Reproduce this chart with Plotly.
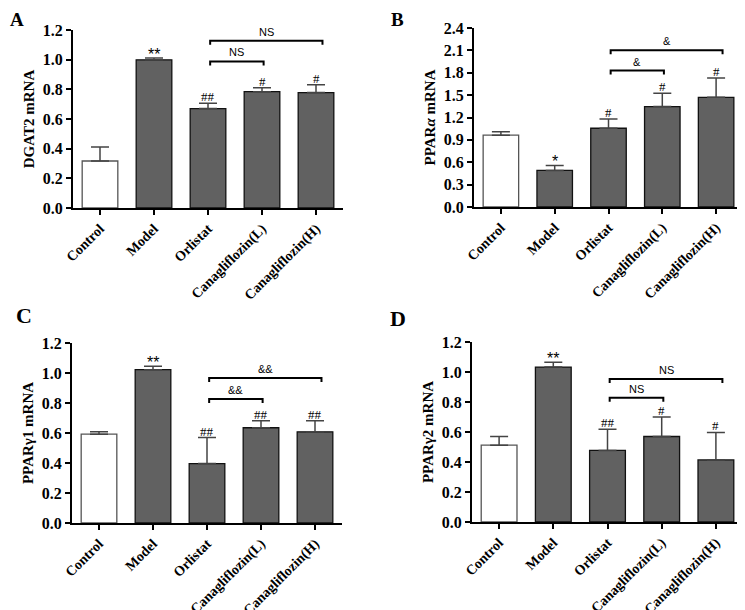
import plotly.graph_objects as go

categories = ["Control", "Model", "Orlistat", "Canagliflozin(L)", "Canagliflozin(H)"]

dgat2_mean = [0.317, 0.999, 0.670, 0.784, 0.778]
dgat2_err = [0.094, 0.013, 0.036, 0.027, 0.053]
dgat2_sig = ["", "**", "##", "#", "#"]

ppara_mean = [0.963, 0.490, 1.056, 1.346, 1.470]
ppara_err = [0.047, 0.067, 0.124, 0.178, 0.260]
ppara_sig = ["", "*", "#", "#", "#"]

pparg1_mean = [0.592, 1.022, 0.396, 0.635, 0.608]
pparg1_err = [0.016, 0.023, 0.174, 0.046, 0.073]
pparg1_sig = ["", "**", "##", "##", "##"]

pparg2_mean = [0.512, 1.033, 0.477, 0.570, 0.414]
pparg2_err = [0.058, 0.032, 0.142, 0.130, 0.183]
pparg2_sig = ["", "**", "##", "#", "#"]

# brackets: start index, end index, y level, label
bracket_start = [2.04, 2.04]
bracket_end = [3.03, 4.12]
dgat2_br_y = [0.988, 1.128]
ppara_br_y = [1.83, 2.10]
pparg1_br_y = [0.826, 0.967]
pparg2_br_y = [0.829, 0.953]
dgat2_br_lab = ["NS", "NS"]
ppara_br_lab = ["&", "&"]
pparg1_br_lab = ["&&", "&&"]
pparg2_br_lab = ["NS", "NS"]

y_ticks_a = [0.0, 0.2, 0.4, 0.6, 0.8, 1.0, 1.2]
y_ticks_b = [0.0, 0.3, 0.6, 0.9, 1.2, 1.5, 1.8, 2.1, 2.4]

# the page has an 8px body margin; lay out in page pixels and shift
PAGE_OFF = 8
W, H = 745 - PAGE_OFF, 610
SERIF = "Liberation Serif"
SANS = "Liberation Sans"

panels = [
    dict(mean=dgat2_mean, err=dgat2_err, sig=dgat2_sig, bry=dgat2_br_y, brl=dgat2_br_lab,
         ticks=y_ticks_a, title="DGAT2 mRNA", letter="A",
         xpx=(73, 343), ypx=(30, 208), letter_pos=(3, 2), letter_size=19, lshift=1),
    dict(mean=ppara_mean, err=ppara_err, sig=ppara_sig, bry=ppara_br_y, brl=ppara_br_lab,
         ticks=y_ticks_b, title="PPAR<i>α</i> mRNA", letter="B",
         xpx=(474, 743), ypx=(28, 207), letter_pos=(389, 0), letter_size=19, lshift=1),
    dict(mean=pparg1_mean, err=pparg1_err, sig=pparg1_sig, bry=pparg1_br_y, brl=pparg1_br_lab,
         ticks=y_ticks_a, title="PPARγ1 mRNA", letter="C",
         xpx=(72, 342), ypx=(343, 523), letter_pos=(14, 301), letter_size=22, lshift=0),
    dict(mean=pparg2_mean, err=pparg2_err, sig=pparg2_sig, bry=pparg2_br_y, brl=pparg2_br_lab,
         ticks=y_ticks_a, title="PPARγ2 mRNA", letter="D",
         xpx=(472, 743), ypx=(342, 522), letter_pos=(388, 304), letter_size=22, lshift=0),
]


def fx(px):
    return min(max((px - PAGE_OFF) / W, 0), 1)


def fy(py):
    return min(max(1 - (py - PAGE_OFF) / H, 0), 1)


fig = go.Figure()
xs = list(range(len(categories)))
bar_fill = ["#ffffff"] + ["#616161"] * (len(categories) - 1)
bar_line = ["#555555"] + ["#111111"] * (len(categories) - 1)

for i, p in enumerate(panels):
    n = i + 1
    xa = "x" if n == 1 else f"x{n}"
    ya = "y" if n == 1 else f"y{n}"
    fig.add_trace(go.Bar(
        x=xs, y=p["mean"], xaxis=xa, yaxis=ya, width=0.66,
        marker=dict(color=bar_fill, line=dict(color=bar_line, width=1.3)),
        error_y=dict(type="data", array=p["err"], arrayminus=[0] * len(xs),
                     symmetric=False, color="#444444", thickness=1.5, width=9),
        showlegend=False, hoverinfo="skip",
    ))
    ymax = p["ticks"][-1]
    plot_h = p["ypx"][1] - p["ypx"][0]
    unit = ymax / plot_h  # data units per pixel
    fig.update_layout(**{
        ("xaxis" if n == 1 else f"xaxis{n}"): dict(
            domain=[fx(p["xpx"][0]), fx(p["xpx"][1])], range=[-0.5, len(xs) - 0.5],
            anchor=ya, tickvals=xs, ticktext=categories, tickangle=-45, automargin=False,
            showline=True, linecolor="black", linewidth=2,
            ticks="outside", ticklen=5, tickwidth=2, tickcolor="black",
            showgrid=False, zeroline=False,
            tickfont=dict(family=SERIF, size=14, color="black", weight="bold"),
        ),
        ("yaxis" if n == 1 else f"yaxis{n}"): dict(
            domain=[fy(p["ypx"][1]), fy(p["ypx"][0])], range=[0, ymax], anchor=xa,
            automargin=False,
            tickvals=p["ticks"], ticktext=[f"{t:.1f}" for t in p["ticks"]],
            showline=True, linecolor="black", linewidth=2,
            ticks="outside", ticklen=5, tickwidth=2, tickcolor="black",
            showgrid=False, zeroline=False,
            tickfont=dict(family=SERIF, size=16, color="black", weight="bold"),
            title=dict(text=p["title"], standoff=5,
                       font=dict(family=SERIF, size=15, color="black", weight="bold")),
        ),
    })
    # significance marks over bars
    for k, s in enumerate(p["sig"]):
        if not s:
            continue
        star = "*" in s
        fig.add_annotation(
            x=xs[k], y=p["mean"][k] + p["err"][k], xref=xa, yref=ya,
            text=s, showarrow=False, yanchor="bottom",
            yshift=-7 if star else -3,
            font=dict(family=SANS if star else SERIF, size=16 if star else 13,
                      color="black", weight="normal"),
        )
    # brackets
    drop = 4 * unit
    for xs0, xs1, by, lab in zip(bracket_start, bracket_end, p["bry"], p["brl"]):
        fig.add_shape(
            type="path", xref=xa, yref=ya,
            path=f"M {xs0},{by - drop} L {xs0},{by} L {xs1},{by} L {xs1},{by - drop}",
            line=dict(color="black", width=2),
        )
        fig.add_annotation(
            x=(xs0 + xs1) / 2, y=by, xref=xa, yref=ya, text=lab, showarrow=False,
            yanchor="bottom", yshift=1,
            font=dict(family=SANS, size=11, color="black"),
        )
    # panel letter
    fig.add_annotation(
        x=fx(p["letter_pos"][0]), y=fy(p["letter_pos"][1]), xref="paper", yref="paper",
        text=p["letter"], showarrow=False, xanchor="left", yanchor="top",
        yshift=p["lshift"],
        font=dict(family=SERIF, size=p["letter_size"], color="black", weight="bold"),
    )

fig.update_layout(
    width=W, height=H, margin=dict(l=0, r=0, t=0, b=0),
    paper_bgcolor="white", plot_bgcolor="white", bargap=0.34,
)
fig.write_html("out.html")
